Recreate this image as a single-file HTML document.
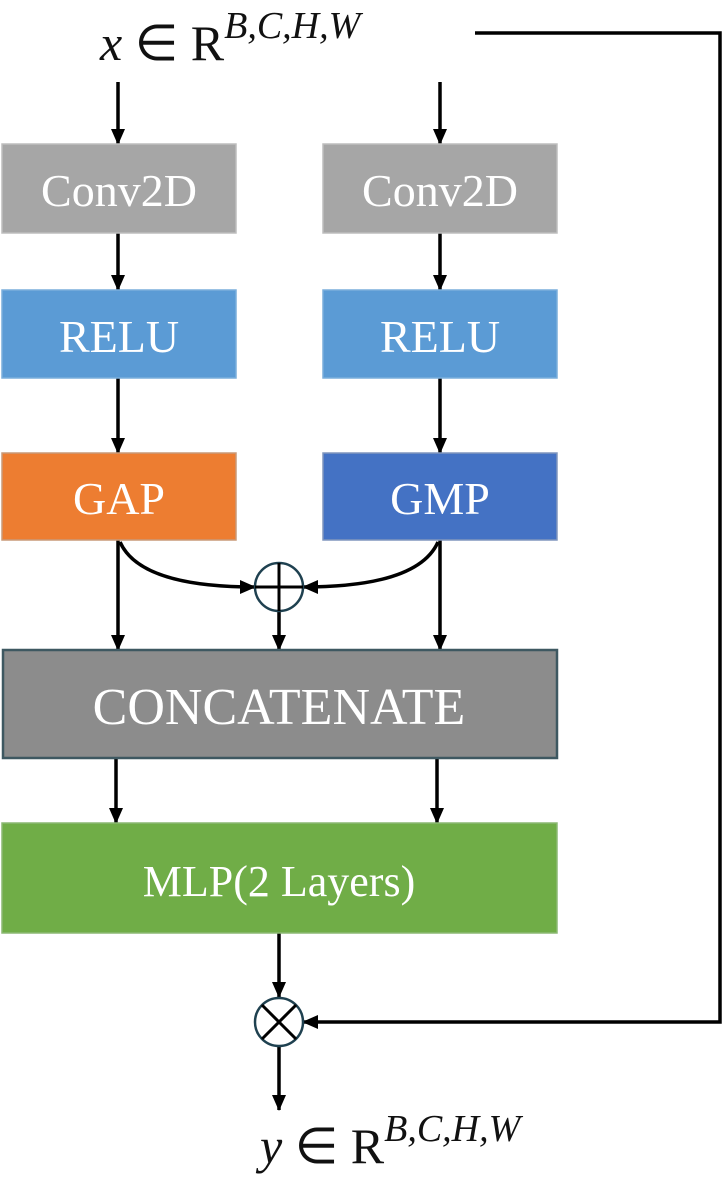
<!DOCTYPE html>
<html><head><meta charset="utf-8"><style>
html,body{margin:0;padding:0;background:#fff;}
svg{display:block;}
.t{font-family:"Liberation Serif",serif;fill:#fff;text-anchor:middle;}
.m{font-family:"Liberation Serif",serif;fill:#111;}
</style></head><body>
<svg width="726" height="1185" viewBox="0 0 726 1185" xmlns="http://www.w3.org/2000/svg">
<defs>
<marker id="a" markerWidth="10" markerHeight="10" refX="9" refY="5" orient="auto" markerUnits="userSpaceOnUse">
<path d="M0,0 L10,5 L0,10 z" fill="#000"/></marker>
<marker id="b" markerWidth="16" markerHeight="16" refX="15" refY="8" orient="auto" markerUnits="userSpaceOnUse">
<path d="M0,1 L16,8 L0,15 z" fill="#000"/></marker>
</defs>
<g stroke="#000" stroke-width="3.5" fill="none" marker-end="url(#b)">
<line x1="118" y1="82" x2="118" y2="144"/>
<line x1="440" y1="82" x2="440" y2="144"/>
<line x1="118" y1="233" x2="118" y2="290"/>
<line x1="440" y1="233" x2="440" y2="290"/>
<line x1="118" y1="378" x2="118" y2="453"/>
<line x1="440" y1="378" x2="440" y2="453"/>
<line x1="118" y1="540" x2="118" y2="650"/>
<line x1="440" y1="540" x2="440" y2="650"/>
<line x1="279" y1="563" x2="279" y2="650"/>
<path d="M120,542 Q140,587 255,587"/>
<path d="M438,542 Q418,587 303,587"/>
<line x1="116" y1="758" x2="116" y2="823"/>
<line x1="437" y1="758" x2="437" y2="823"/>
<line x1="279" y1="932" x2="279" y2="997"/>
<line x1="279" y1="1047" x2="279" y2="1110"/>
<path d="M475,33 L720,33 L720,1022 L303,1022"/>
</g>
<rect x="2" y="144" width="234" height="89" fill="#a6a6a6" stroke="#bdbdbd" stroke-width="1.5"/>
<rect x="323" y="144" width="234" height="89" fill="#a6a6a6" stroke="#bdbdbd" stroke-width="1.5"/>
<rect x="2" y="290" width="234" height="88" fill="#5b9bd5" stroke="#7aaedc" stroke-width="1.5"/>
<rect x="323" y="290" width="234" height="88" fill="#5b9bd5" stroke="#7aaedc" stroke-width="1.5"/>
<rect x="2" y="453" width="234" height="87" fill="#ed7d31" stroke="#c99a78" stroke-width="1.5"/>
<rect x="323" y="453" width="234" height="87" fill="#4472c4" stroke="#8096bd" stroke-width="1.5"/>
<rect x="3" y="650" width="554" height="108" fill="#8c8c8c" stroke="#3e5861" stroke-width="2.5"/>
<rect x="2" y="823" width="555" height="110" fill="#70ad47" stroke="#8cb874" stroke-width="1.5"/>
<text class="t" x="119" y="206" font-size="46">Conv2D</text>
<text class="t" x="440" y="206" font-size="46">Conv2D</text>
<text class="t" x="119" y="352" font-size="46">RELU</text>
<text class="t" x="440" y="352" font-size="46">RELU</text>
<text class="t" x="119" y="514" font-size="46">GAP</text>
<text class="t" x="440" y="514" font-size="46">GMP</text>
<text class="t" x="279" y="724" font-size="52">CONCATENATE</text>
<text class="t" x="279" y="896" font-size="44">MLP(2 Layers)</text>
<circle cx="279" cy="587" r="24" fill="#fff" stroke="#1f4150" stroke-width="2.5"/>
<line x1="279" y1="563" x2="279" y2="611" stroke="#000" stroke-width="3"/>
<line x1="255" y1="587" x2="303" y2="587" stroke="#000" stroke-width="3"/>
<circle cx="279" cy="1022" r="24" fill="#fff" stroke="#1f4150" stroke-width="2.5"/>
<line x1="262" y1="1005" x2="296" y2="1039" stroke="#000" stroke-width="3"/>
<line x1="296" y1="1005" x2="262" y2="1039" stroke="#000" stroke-width="3"/>
<text class="m" x="100" y="60" font-size="50"><tspan font-style="italic">x</tspan> ∈ R<tspan font-style="italic" font-size="38" dy="-22">B,C,H,W</tspan></text>
<text class="m" x="260" y="1163" font-size="50"><tspan font-style="italic">y</tspan> ∈ R<tspan font-style="italic" font-size="38" dy="-22">B,C,H,W</tspan></text>
</svg>
</body></html>
